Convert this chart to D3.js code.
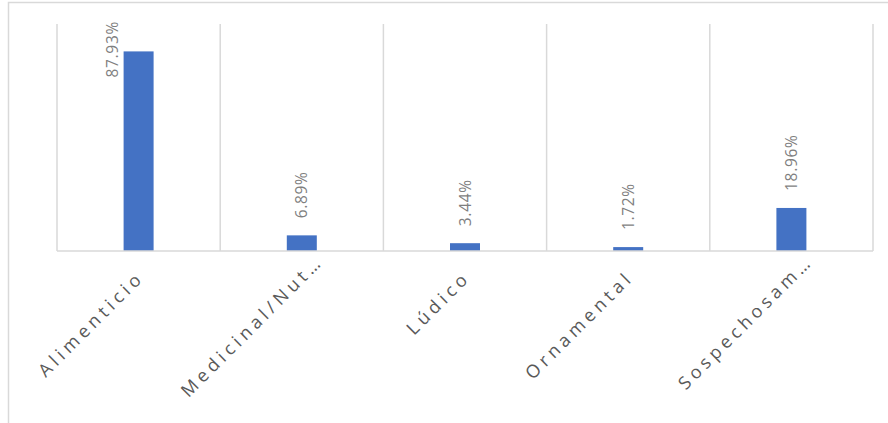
<!DOCTYPE html>
<html>
<head>
<meta charset="utf-8">
<script src="https://cdn.jsdelivr.net/npm/d3@7"></script>
<style>
  html, body { margin: 0; padding: 0; background: #ffffff; }
  svg { display: block; }
</style>
</head>
<body>
<div id="chart"></div>
<script>
// Uso de las especies (porcentaje de menciones)
const categories = ["Alimenticio", "Medicinal/Nut…", "Lúdico", "Ornamental", "Sospechosam…"];
const values = [87.93, 6.89, 3.44, 1.72, 18.96];
const valueLabels = ["87.93%", "6.89%", "3.44%", "1.72%", "18.96%"];

const width = 888, height = 423;
const margin = { top: 24, right: 15, bottom: 172, left: 57 };
const plotW = width - margin.left - margin.right;
const plotH = height - margin.top - margin.bottom;

const svg = d3.select("#chart").append("svg")
  .attr("width", width)
  .attr("height", height);

// chart frame
svg.append("rect")
  .attr("x", 8.5).attr("y", 2.5)
  .attr("width", 1000).attr("height", 1000)
  .attr("fill", "none")
  .attr("stroke", "#d9d9d9")
  .attr("stroke-width", 1.5);

const g = svg.append("g").attr("transform", `translate(${margin.left},${margin.top})`);

const x = d3.scaleBand().domain(categories).range([0, plotW]).paddingInner(0).paddingOuter(0);
const y = d3.scaleLinear().domain([0, 100]).range([plotH, 0]);

// vertical separators between categories
const bounds = categories.map(c => x(c)).concat([plotW]);
g.selectAll("line.sep").data(bounds).join("line")
  .attr("class", "sep")
  .attr("x1", d => d).attr("x2", d => d)
  .attr("y1", 0).attr("y2", plotH)
  .attr("stroke", "#d9d9d9").attr("stroke-width", 1.5);

const barW = 30;
const data = categories.map((c, i) => ({ c, v: values[i], label: valueLabels[i] }));

g.selectAll("rect.bar").data(data).join("rect")
  .attr("class", "bar")
  .attr("x", d => x(d.c) + x.bandwidth() / 2 - barW / 2)
  .attr("y", d => y(d.v))
  .attr("width", barW)
  .attr("height", d => plotH - y(d.v))
  .attr("fill", "#4472c4");

// category axis line
g.append("line")
  .attr("x1", 0).attr("x2", plotW)
  .attr("y1", plotH).attr("y2", plotH)
  .attr("stroke", "#d9d9d9").attr("stroke-width", 1.5);

// value labels, rotated; kept inside the frame and moved beside the bar if needed
const gap = 17;
const minTop = 21 - margin.top;
g.selectAll("text.val").data(data).join("text")
  .attr("class", "val")
  .attr("font-family", "'Open Sans', sans-serif")
  .attr("font-size", 15.5)
  .attr("letter-spacing", "0.7px")
  .attr("fill", "#7f7f7f")
  .attr("text-anchor", "start")
  .attr("dy", "0.36em")
  .text(d => d.label)
  .each(function (d) {
    const len = this.getComputedTextLength();
    let cx = x(d.c) + x.bandwidth() / 2;
    let base = y(d.v) - gap;
    if (base - len < minTop) {
      base = minTop + len;
      cx = cx - barW / 2 - 11;
    }
    d3.select(this).attr("transform", `translate(${cx},${base}) rotate(-90)`);
  });

// category labels at 45 degrees; shortened names run a little past the tick
g.selectAll("text.cat").data(data).join("text")
  .attr("class", "cat")
  .attr("font-family", "'Open Sans', sans-serif")
  .attr("font-size", 18)
  .attr("letter-spacing", "4.3px")
  .attr("fill", "#595959")
  .attr("text-anchor", "end")
  .attr("dx", d => d.c.endsWith("…") ? 23 : 0)
  .attr("transform", d => `translate(${x(d.c) + x.bandwidth() / 2 + 6.5},${plotH + 27.5}) rotate(-45)`)
  .text(d => d.c);
</script>
</body>
</html>
